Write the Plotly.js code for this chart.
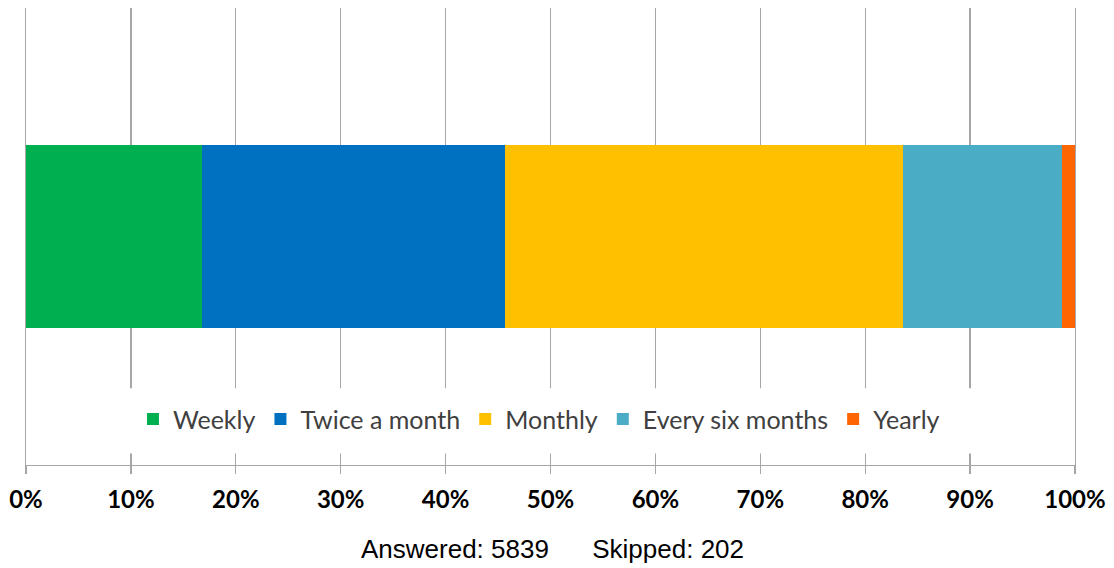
<!DOCTYPE html>
<html>
<head>
<meta charset="utf-8">
<script src="https://cdn.plot.ly/plotly-3.0.1.min.js"></script>
<style>html,body{margin:0;padding:0;background:#fff;}#chart{width:1114px;height:568px;}</style>
</head>
<body>
<div id="chart"></div>
<script>
// Data
const seriesNames = ["Weekly", "Twice a month", "Monthly", "Every six months", "Yearly"];
const seriesValues = [16.8, 28.9, 37.9, 15.2, 1.2];
const seriesColors = ["#00b050", "#0070c0", "#ffc000", "#4bacc6", "#ff6600"];
const category = ["Q"];
const tickVals = [0, 10, 20, 30, 40, 50, 60, 70, 80, 90, 100];
const tickText = ["0%", "10%", "20%", "30%", "40%", "50%", "60%", "70%", "80%", "90%", "100%"];
const footerText = "Answered: 5839&nbsp;&nbsp;&nbsp;&nbsp;&nbsp;&nbsp;Skipped: 202";

const traces = seriesNames.map((name, i) => ({
  type: "bar",
  orientation: "h",
  name: name,
  x: [seriesValues[i]],
  y: category,
  width: 0.4,
  marker: {color: seriesColors[i], line: {width: 0}},
  hoverinfo: "skip"
}));

const layout = {
  width: 1114,
  height: 568,
  barmode: "stack",
  paper_bgcolor: "#ffffff",
  plot_bgcolor: "#ffffff",
  margin: {l: 26, r: 38.5, t: 8, b: 103},
  showlegend: true,
  legend: {
    orientation: "h",
    x: 0.489, xanchor: "center",
    y: 0.1, yanchor: "middle",
    bgcolor: "rgba(0,0,0,0)",
    font: {family: "Lato, 'Open Sans', sans-serif", size: 25, color: "#404040"},
    traceorder: "normal",
    itemclick: false
  },
  xaxis: {
    range: [0, 100],
    tickvals: tickVals,
    ticktext: tickText,
    showgrid: true,
    gridcolor: "#a6a6a6",
    gridwidth: 1.3,
    zeroline: false,
    showline: true,
    linecolor: "#a6a6a6",
    linewidth: 1.3,
    ticks: "outside",
    ticklen: 8,
    tickwidth: 1.3,
    tickcolor: "#a6a6a6",
    ticklabelstandoff: 5,
    tickfont: {family: "Lato, 'Open Sans', sans-serif", size: 24, color: "#000000", weight: "bold"},
    fixedrange: true
  },
  yaxis: {
    range: [-0.5, 0.5],
    showticklabels: false,
    showgrid: false,
    zeroline: false,
    showline: true,
    mirror: true,
    linecolor: "#a6a6a6",
    linewidth: 1.3,
    ticks: "",
    fixedrange: true
  },
  shapes: [{
    type: "rect",
    xref: "x", yref: "paper",
    x0: 0.15, x1: 99.85,
    y0: 0.025, y1: 0.168,
    fillcolor: "#ffffff",
    line: {width: 0},
    layer: "above"
  }],
  annotations: [{
    text: footerText,
    xref: "paper", yref: "paper",
    x: 0.502, y: -0.183,
    xanchor: "center", yanchor: "middle",
    showarrow: false,
    font: {family: "'Liberation Sans', Arial, sans-serif", size: 26, color: "#000000"}
  }]
};

Plotly.newPlot("chart", traces, layout, {displayModeBar: false, staticPlot: true});
</script>
</body>
</html>
